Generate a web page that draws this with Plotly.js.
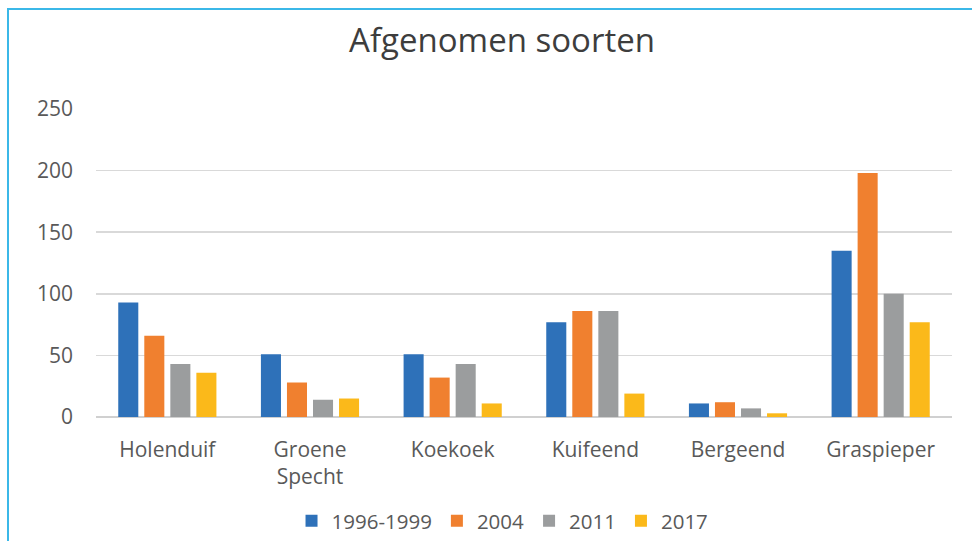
<!DOCTYPE html>
<html>
<head>
<meta charset="utf-8">
<script src="https://cdn.plot.ly/plotly-3.0.1.min.js"></script>
<style>
  html, body { margin: 0; padding: 0; background: #fff; }
  #wrap { position: relative; width: 972px; height: 541px; }
  #chart { width: 972px; height: 541px; }
  #frame { position: absolute; left: 7px; top: 8px; right: 0; bottom: 0;
           border-left: 2px solid #3bb8e8; border-top: 2px solid #3bb8e8;
           pointer-events: none; }
</style>
</head>
<body>
<div id="wrap">
  <div id="chart"></div>
  <div id="frame"></div>
</div>
<script>
const categories = ["Holenduif", "Groene<br>Specht", "Koekoek", "Kuifeend", "Bergeend", "Graspieper"];
const seriesNames = ["1996-1999", "2004", "2011", "2017"];
const values1996 = [93, 51, 51, 77, 11, 135];
const values2004 = [66, 28, 32, 86, 12, 198];
const values2011 = [43, 14, 43, 86, 7, 100];
const values2017 = [36, 15, 11, 19, 3, 77];
const yTicks = [0, 50, 100, 150, 200, 250];
const colors = ["#2e71b9", "#f0802f", "#9b9d9e", "#fbb91a"];

const allValues = [values1996, values2004, values2011, values2017];
const traces = allValues.map((vals, i) => ({
  type: "bar",
  name: seriesNames[i],
  x: categories,
  y: vals,
  marker: { color: colors[i] },
  hoverinfo: "x+y+name"
}));

const font = "'Open Sans', 'DejaVu Sans', sans-serif";
const layout = {
  width: 972,
  height: 541,
  paper_bgcolor: "#ffffff",
  plot_bgcolor: "#ffffff",
  margin: { l: 96, r: 20, t: 109, b: 124, pad: 0 },
  barmode: "group",
  bargap: 0.27,
  bargroupgap: 0.23,
  font: { family: font, color: "#595959", size: 21 },
  title: {
    text: "Afgenomen soorten",
    font: { family: font, size: 33, color: "#3d3d3d" },
    xref: "container", yref: "container",
    x: 0.5165, xanchor: "center",
    y: 0.926, yanchor: "middle"
  },
  xaxis: {
    type: "category",
    showgrid: false,
    showline: false,
    zeroline: false,
    ticks: "",
    ticklabelstandoff: 18,
    tickfont: { family: font, size: 21, color: "#595959" }
  },
  yaxis: {
    range: [0, 250],
    tickvals: yTicks,
    ticktext: yTicks.map(String),
    showgrid: true,
    gridcolor: "#d9d9d9",
    gridwidth: 1.5,
    zeroline: true,
    zerolinecolor: "#d0d0d0",
    zerolinewidth: 1.5,
    showline: false,
    ticks: "",
    ticklabelstandoff: 22,
    tickfont: { family: font, size: 21, color: "#595959" }
  },
  legend: {
    orientation: "h",
    xref: "container", yref: "container",
    x: 0.517, xanchor: "center",
    y: 0.037, yanchor: "middle",
    font: { family: font, size: 20.5, color: "#595959" },
    itemsizing: "constant",
    tracegroupgap: 0
  },
  showlegend: true
};

Plotly.newPlot("chart", traces, layout, { displayModeBar: false, staticPlot: true });
</script>
</body>
</html>
